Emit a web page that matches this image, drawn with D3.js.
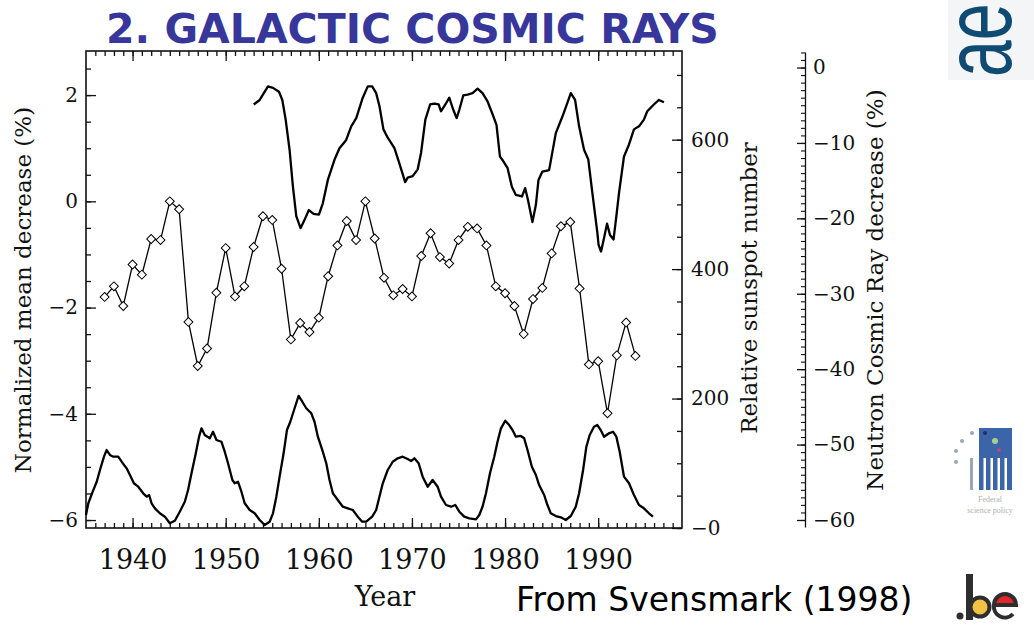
<!DOCTYPE html>
<html>
<head>
<meta charset="utf-8">
<script src="https://cdn.jsdelivr.net/npm/d3@7"></script>
<style>
  html, body { margin: 0; padding: 0; background: #fff; }
  svg { display: block; }
  .serif { font-family: "DejaVu Serif", serif; fill: #111; }
</style>
</head>
<body>
<svg id="chart" width="1034" height="625"></svg>
<script>
// ---- tick values and their labels ----
const yearTicks   = [1940, 1950, 1960, 1970, 1980, 1990];
const yearLabels  = ["1940", "1950", "1960", "1970", "1980", "1990"];
const leftTicks   = [-6, -4, -2, 0, 2];
const leftLabels  = ["−6", "−4", "−2", "0", "2"];
const sunTicks    = [0, 200, 400, 600];
const sunLabels   = ["−0", "200", "400", "600"];
const neutronTicks  = [0, -10, -20, -30, -40, -50, -60];
const neutronLabels = ["0", "−10", "−20", "−30", "−40", "−50", "−60"];

// ---- ionisation chamber, annual normalized mean decrease (%) ----
const ionYears = [1937, 1938, 1939, 1940, 1941, 1942, 1943, 1944, 1945, 1946,
                  1947, 1948, 1949, 1950, 1951, 1952, 1953, 1954, 1955, 1956,
                  1957, 1958, 1959, 1960, 1961, 1962, 1963, 1964, 1965, 1966,
                  1967, 1968, 1969, 1970, 1971, 1972, 1973, 1974, 1975, 1976,
                  1977, 1978, 1979, 1980, 1981, 1982, 1983, 1984, 1985, 1986,
                  1987, 1988, 1989, 1990, 1991, 1992, 1993, 1994];
const ionValues = [-1.80, -1.60, -1.97, -1.19, -1.38, -0.71, -0.73, 0.00, -0.15, -2.27,
                   -3.10, -2.77, -1.72, -0.88, -1.79, -1.60, -0.86, -0.28, -0.35, -1.27,
                   -2.60, -2.29, -2.46, -2.19, -1.41, -0.83, -0.37, -0.73, 0.00, -0.70,
                   -1.44, -1.77, -1.65, -1.79, -1.03, -0.60, -1.05, -1.17, -0.73, -0.48,
                   -0.51, -0.83, -1.60, -1.73, -1.97, -2.50, -1.84, -1.63, -0.98, -0.47,
                   -0.39, -1.64, -3.07, -3.01, -3.99, -2.90, -2.28, -2.91];

// ---- smoothed relative sunspot number ----
const sunspotYears = [1935.00, 1935.25, 1935.72, 1936.15, 1936.50, 1936.93, 1937.22, 1937.57, 1937.93, 1938.46,
                      1938.83, 1939.36, 1939.72, 1940.14, 1940.61, 1941.14, 1941.51, 1941.78, 1942.04, 1942.40,
                      1942.93, 1943.47, 1944.00, 1944.54, 1945.07, 1945.61, 1945.96, 1946.33, 1946.79, 1947.14,
                      1947.40, 1947.75, 1948.29, 1948.64, 1949.01, 1949.54, 1949.90, 1950.25, 1950.72, 1950.97,
                      1951.32, 1951.69, 1952.04, 1952.58, 1953.11, 1953.65, 1954.19, 1954.72, 1955.08, 1955.44,
                      1955.79, 1956.22, 1956.58, 1956.94, 1957.40, 1957.83, 1958.23, 1958.65, 1959.19, 1959.54,
                      1959.90, 1960.43, 1960.80, 1961.15, 1961.51, 1962.04, 1962.58, 1963.11, 1963.65, 1964.18,
                      1964.66, 1965.09, 1965.73, 1966.16, 1966.51, 1966.87, 1967.40, 1967.94, 1968.47, 1969.01,
                      1969.54, 1969.91, 1970.26, 1970.72, 1971.15, 1971.69, 1972.22, 1972.76, 1973.12, 1973.66,
                      1974.20, 1974.66, 1975.09, 1975.62, 1976.16, 1976.88, 1977.23, 1977.58, 1977.95, 1978.38,
                      1978.84, 1979.19, 1979.56, 1980.02, 1980.44, 1980.80, 1981.16, 1981.70, 1982.05, 1982.41,
                      1982.88, 1983.31, 1983.66, 1984.20, 1984.55, 1984.91, 1985.45, 1985.99, 1986.52, 1987.06,
                      1987.59, 1987.95, 1988.38, 1988.73, 1989.09, 1989.55, 1989.91, 1990.27, 1990.63, 1991.16,
                      1991.59, 1991.95, 1992.31, 1992.77, 1993.31, 1993.84, 1994.38, 1994.91, 1995.45, 1995.88];
const sunspotValues = [20.1, 38.2, 56.1, 71.5, 89.6, 110.2, 120.5, 112.8, 110.2, 110.2,
                       102.4, 92.2, 81.9, 69.1, 63.8, 53.6, 48.4, 51.0, 38.2, 30.4,
                       22.7, 17.5, 7.3, 11.3, 25.2, 40.6, 58.7, 84.5, 115.4, 141.1,
                       154.0, 143.7, 138.6, 148.8, 136.0, 133.3, 117.9, 100.0, 74.2, 69.1,
                       71.5, 56.1, 38.2, 27.8, 22.7, 12.4, 4.6, 9.7, 22.7, 48.4,
                       79.3, 115.4, 151.4, 164.2, 185.0, 204.0, 195.1, 185.0, 177.2, 164.2,
                       141.1, 117.9, 100.0, 74.2, 53.6, 43.3, 32.9, 30.4, 27.8, 17.5,
                       9.7, 9.7, 17.5, 27.8, 48.4, 69.1, 89.6, 102.4, 107.7, 110.2,
                       106.6, 103.5, 107.7, 100.0, 79.3, 63.8, 74.2, 63.8, 48.4, 35.5,
                       32.9, 35.5, 25.2, 17.5, 15.0, 13.4, 20.1, 32.9, 53.6, 84.5,
                       110.2, 133.3, 154.0, 165.8, 159.1, 151.4, 141.1, 142.2, 138.6, 120.5,
                       94.7, 81.9, 66.4, 51.0, 35.5, 22.7, 18.5, 16.5, 12.4, 18.5,
                       32.9, 53.6, 89.6, 125.6, 143.7, 156.5, 159.1, 151.4, 141.1, 146.3,
                       148.8, 141.1, 117.9, 79.3, 69.1, 51.0, 35.5, 30.4, 22.7, 17.5];

// ---- neutron monitor cosmic ray decrease (%) ----
const neutronYears = [1953.01, 1953.65, 1954.54, 1955.08, 1955.72, 1956.08, 1956.44, 1956.86, 1957.22, 1957.58,
                      1958.04, 1958.47, 1958.93, 1959.44, 1960.01, 1960.43, 1960.97, 1961.69, 1962.22, 1962.94,
                      1963.48, 1964.02, 1964.72, 1965.26, 1965.73, 1966.16, 1966.51, 1966.94, 1967.40, 1968.12,
                      1968.65, 1969.27, 1969.54, 1970.08, 1970.62, 1970.98, 1971.44, 1971.95, 1972.41, 1972.87,
                      1973.12, 1973.59, 1974.01, 1974.44, 1974.80, 1975.09, 1975.51, 1975.98, 1976.51, 1977.05,
                      1977.58, 1978.12, 1978.66, 1979.08, 1979.45, 1979.80, 1980.26, 1980.73, 1981.16, 1981.81,
                      1982.16, 1982.45, 1982.94, 1983.31, 1983.59, 1984.01, 1984.73, 1985.45, 1986.16, 1986.69,
                      1987.06, 1987.52, 1987.95, 1988.48, 1988.94, 1989.37, 1989.91, 1990.04, 1990.31, 1990.63,
                      1990.95, 1991.27, 1991.65, 1991.97, 1992.24, 1992.77, 1993.31, 1993.84, 1994.38, 1994.91,
                      1995.27, 1995.98, 1996.52, 1997.06];
const neutronValues = [-4.9, -4.3, -2.5, -2.7, -3.2, -4.3, -6.9, -10.9, -15.8, -19.7,
                       -21.3, -20.2, -18.9, -19.4, -19.5, -18.0, -14.9, -12.2, -10.7, -9.6,
                       -7.8, -6.7, -4.0, -2.5, -2.5, -3.4, -5.1, -8.2, -9.3, -10.7,
                       -12.7, -15.2, -14.6, -14.4, -13.5, -11.3, -6.9, -4.9, -4.8, -4.9,
                       -5.8, -4.9, -4.0, -5.6, -6.7, -5.6, -3.7, -3.6, -3.4, -2.8,
                       -3.4, -4.5, -6.2, -7.6, -11.8, -12.4, -13.3, -15.8, -16.9, -17.1,
                       -16.0, -17.5, -20.5, -18.2, -14.9, -13.8, -13.6, -8.7, -6.5, -4.7,
                       -3.4, -4.3, -7.8, -10.9, -12.2, -16.6, -21.9, -23.5, -24.4, -22.6,
                       -20.7, -22.2, -22.8, -19.5, -16.6, -11.8, -10.2, -8.2, -7.8, -6.9,
                       -5.8, -4.9, -4.3, -4.6];

// ---- layout ----
const frame = { left: 86, right: 682, top: 51, bottom: 528 };
const neutronAxisX = 805;

const svg = d3.select("#chart");

const x = d3.scaleLinear().domain([1935, 1999]).range([frame.left, frame.right]);
const yLeft = d3.scaleLinear().domain([-6.15, 2.83]).range([frame.bottom, frame.top]);
const ySun = d3.scaleLinear().domain([0, 737]).range([frame.bottom, frame.top]);
const yNeutron = d3.scaleLinear().domain([-60.93, 2.06]).range([527, 52]);

const strokeCol = "#111";

function styleAxis(g) {
  g.select(".domain").remove();
  g.selectAll(".tick line").attr("stroke", strokeCol).attr("stroke-width", 1.3);
  g.selectAll(".tick text").attr("class", "serif").attr("fill", "#111");
}

// ---- title ----
svg.append("text")
  .attr("x", 106).attr("y", 43)
  .attr("font-family", "'DejaVu Sans', sans-serif")
  .attr("font-weight", "bold")
  .attr("font-size", 41)
  .attr("fill", "#37379b")
  .text("2. GALACTIC COSMIC RAYS");

// ---- bottom / top year axes ----
const minorYears = d3.range(1936, 1999);
svg.append("g").attr("transform", `translate(0,${frame.bottom})`)
  .call(d3.axisBottom(x).tickValues(minorYears).tickSizeInner(-5).tickSizeOuter(0).tickFormat(""))
  .call(styleAxis);
svg.append("g").attr("transform", `translate(0,${frame.bottom})`)
  .call(d3.axisBottom(x).tickValues(yearTicks).tickSizeInner(-10).tickSizeOuter(0)
        .tickPadding(22).tickFormat((d, i) => yearLabels[i]))
  .call(styleAxis)
  .call(g => g.selectAll(".tick text").attr("font-size", 27));
svg.append("g").attr("transform", `translate(0,${frame.top})`)
  .call(d3.axisTop(x).tickValues(minorYears).tickSizeInner(-5).tickSizeOuter(0).tickFormat(""))
  .call(styleAxis);
svg.append("g").attr("transform", `translate(0,${frame.top})`)
  .call(d3.axisTop(x).tickValues(yearTicks).tickSizeInner(-10).tickSizeOuter(0).tickFormat(""))
  .call(styleAxis);

// ---- left axis (normalized mean decrease) ----
svg.append("g").attr("transform", `translate(${frame.left},0)`)
  .call(d3.axisLeft(yLeft).tickValues(d3.range(-6, 2.6, 0.5)).tickSizeInner(-5).tickSizeOuter(0).tickFormat(""))
  .call(styleAxis);
svg.append("g").attr("transform", `translate(${frame.left},0)`)
  .call(d3.axisLeft(yLeft).tickValues(leftTicks).tickSizeInner(-10).tickSizeOuter(0)
        .tickPadding(8).tickFormat((d, i) => leftLabels[i]))
  .call(styleAxis)
  .call(g => g.selectAll(".tick text").attr("font-size", 20));

// ---- right axis (sunspot number) ----
svg.append("g").attr("transform", `translate(${frame.right},0)`)
  .call(d3.axisRight(ySun).tickValues(d3.range(0, 701, 50)).tickSizeInner(-5).tickSizeOuter(0).tickFormat(""))
  .call(styleAxis);
svg.append("g").attr("transform", `translate(${frame.right},0)`)
  .call(d3.axisRight(ySun).tickValues(sunTicks).tickSizeInner(-10).tickSizeOuter(0)
        .tickPadding(9).tickFormat((d, i) => sunLabels[i]))
  .call(styleAxis)
  .call(g => g.selectAll(".tick text").attr("font-size", 20));

// ---- separate neutron monitor axis ----
const neutronMinor = svg.append("g").attr("transform", `translate(${neutronAxisX},0)`)
  .call(d3.axisRight(yNeutron).tickValues(d3.range(-60, 2.5, 1)).tickSizeInner(-4).tickSizeOuter(0).tickFormat(""));
neutronMinor.select(".domain").attr("stroke", strokeCol).attr("stroke-width", 1.3);
neutronMinor.selectAll(".tick line").attr("stroke", strokeCol).attr("stroke-width", 1.1);
svg.append("g").attr("transform", `translate(${neutronAxisX},0)`)
  .call(d3.axisRight(yNeutron).tickValues(neutronTicks).tickSizeInner(-8).tickSizeOuter(0)
        .tickPadding(8).tickFormat((d, i) => neutronLabels[i]))
  .call(styleAxis)
  .call(g => g.selectAll(".tick text").attr("font-size", 20));

// ---- frame ----
svg.append("rect")
  .attr("x", frame.left).attr("y", frame.top)
  .attr("width", frame.right - frame.left).attr("height", frame.bottom - frame.top)
  .attr("fill", "none").attr("stroke", strokeCol).attr("stroke-width", 1.6);

// ---- axis titles ----
svg.append("text").attr("class", "serif")
  .attr("transform", "translate(31,290) rotate(-90)")
  .attr("text-anchor", "middle").attr("font-size", 23)
  .text("Normalized mean decrease (%)");
svg.append("text").attr("class", "serif")
  .attr("transform", "translate(757,288) rotate(-90)")
  .attr("text-anchor", "middle").attr("font-size", 23)
  .text("Relative sunspot number");
svg.append("text").attr("class", "serif")
  .attr("transform", "translate(883,290) rotate(-90)")
  .attr("text-anchor", "middle").attr("font-size", 23)
  .text("Neutron Cosmic Ray decrease (%)");
svg.append("text").attr("class", "serif")
  .attr("x", 385).attr("y", 606)
  .attr("text-anchor", "middle").attr("font-size", 27)
  .text("Year");

// ---- data ----
const sunspot = sunspotYears.map((yr, i) => [yr, sunspotValues[i]]);
const neutron = neutronYears.map((yr, i) => [yr, neutronValues[i]]);
const ion = ionYears.map((yr, i) => [yr, ionValues[i]]);

svg.append("path").datum(sunspot)
  .attr("fill", "none").attr("stroke", "#000").attr("stroke-width", 2.3).attr("stroke-linejoin", "round")
  .attr("d", d3.line().x(d => x(d[0])).y(d => ySun(d[1])));

svg.append("path").datum(neutron)
  .attr("fill", "none").attr("stroke", "#000").attr("stroke-width", 2.3).attr("stroke-linejoin", "round")
  .attr("d", d3.line().x(d => x(d[0])).y(d => yNeutron(d[1])));

svg.append("path").datum(ion)
  .attr("fill", "none").attr("stroke", "#000").attr("stroke-width", 1.3)
  .attr("d", d3.line().x(d => x(d[0])).y(d => yLeft(d[1])));

svg.append("g").selectAll("path").data(ion).join("path")
  .attr("transform", d => `translate(${x(d[0])},${yLeft(d[1])}) rotate(45)`)
  .attr("d", d3.symbol(d3.symbolSquare, 40))
  .attr("fill", "#fff").attr("stroke", "#000").attr("stroke-width", 1);

// ---- source note ----
svg.append("text")
  .attr("x", 516).attr("y", 611)
  .attr("font-family", "'DejaVu Sans', sans-serif")
  .attr("font-size", 33).attr("fill", "#000")
  .text("From Svensmark (1998)");

// ---- logos ----
const ae = svg.append("g");
ae.append("rect").attr("x", 948).attr("y", 0).attr("width", 86).attr("height", 80).attr("fill", "#f3f5f7");
ae.append("text")
  .attr("transform", "translate(1011,77) rotate(-90) scale(0.69,1)")
  .attr("font-family", "'Liberation Sans', sans-serif")
  .attr("font-size", 96).attr("fill", "#0f4a72")
  .text("ae");

const fsp = svg.append("g");
fsp.append("rect").attr("x", 979).attr("y", 428).attr("width", 33).attr("height", 62).attr("fill", "#3b65a8");
[985, 992, 999, 1006].forEach(bx =>
  fsp.append("rect").attr("x", bx - 1.5).attr("y", 458).attr("width", 2.5).attr("height", 32).attr("fill", "#fff"));
fsp.append("rect").attr("x", 970).attr("y", 458).attr("width", 3).attr("height", 32).attr("fill", "#9aa7b4");
[[972, 433], [962, 441], [956, 451], [956, 462]].forEach(p =>
  fsp.append("circle").attr("cx", p[0]).attr("cy", p[1]).attr("r", 2).attr("fill", "#9aa7b4"));
fsp.append("circle").attr("cx", 985).attr("cy", 433).attr("r", 2).attr("fill", "#1f2f6a");
fsp.append("circle").attr("cx", 995).attr("cy", 441).attr("r", 3).attr("fill", "#a8d08d");
fsp.append("circle").attr("cx", 999).attr("cy", 450).attr("r", 2).attr("fill", "#b24a7a");
fsp.append("text").attr("x", 990).attr("y", 502).attr("text-anchor", "middle")
  .attr("font-family", "'Liberation Serif', serif").attr("font-size", 8).attr("fill", "#b0b0b0").text("Federal");
fsp.append("text").attr("x", 990).attr("y", 513).attr("text-anchor", "middle")
  .attr("font-family", "'Liberation Serif', serif").attr("font-size", 8).attr("fill", "#b0b0b0").text("science policy");

const be = svg.append("g");
be.append("circle").attr("cx", 960).attr("cy", 616).attr("r", 3.5).attr("fill", "#2e2e2e");
be.append("rect").attr("x", 966).attr("y", 574).attr("width", 7).attr("height", 46).attr("fill", "#2e2e2e");
be.append("circle").attr("cx", 980).attr("cy", 607).attr("r", 9.5).attr("fill", "#f3c244").attr("stroke", "#2e2e2e").attr("stroke-width", 4);
be.append("path")
  .attr("d", "M994,605 A11,11 0 1 1 1016,605 Z").attr("fill", "#e4252b");
be.append("path")
  .attr("d", "M994,605 L1016,605 A11,11 0 1 0 994,605 A11,11 0 0 0 1013,614")
  .attr("fill", "none").attr("stroke", "#2e2e2e").attr("stroke-width", 4);
</script>
</body>
</html>
